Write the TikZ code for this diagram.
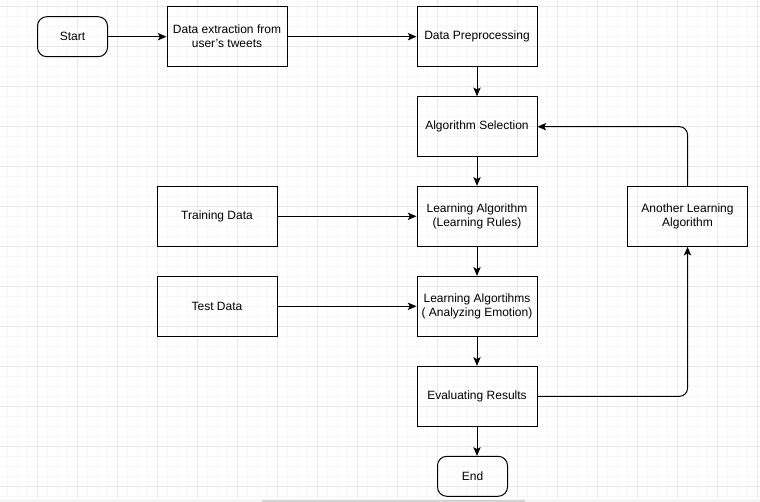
\documentclass[tikz,border=0pt]{standalone}
\usepackage{fontspec}
\setmainfont{Liberation Sans}
\usetikzlibrary{arrows.meta}
\definecolor{minorgrid}{HTML}{F6F6F6}
\definecolor{majorgrid}{HTML}{E8E8E8}
\begin{document}
\begin{tikzpicture}[x=0.75pt,y=-0.75pt,
  box/.style={draw, line width=0.75pt, minimum width=90pt, minimum height=45pt, align=center, font=\fontsize{9}{10.5}\selectfont, inner sep=0pt},
  term/.style={box, rounded corners=7pt, minimum width=52.5pt, minimum height=30pt},
  arr/.style={-{Stealth[length=6.5pt,width=5.5pt,inset=1.5pt]}, line width=0.75pt},
  minor/.style={draw=minorgrid, line width=0.6pt},
  major/.style={draw=majorgrid, line width=0.75pt}]
\useasboundingbox (0,0) rectangle (760,502);
\fill[white] (0,0) rectangle (760,502);
\foreach \x in {7.5,17.5,...,757.5} \draw[minor] (\x,0) -- (\x,498);
\foreach \y in {6.7,16.7,...,496.7} \draw[minor] (0,\y) -- (760,\y);
\foreach \x in {37.5,77.5,...,757.5} \draw[major] (\x,0) -- (\x,498);
\foreach \y in {6.7,46.7,...,496.7} \draw[major] (0,\y) -- (760,\y);
\fill[gray!8] (0,498.5) rectangle (760,502);
\fill[gray!35] (262,500) rectangle (525,502);

\node[term] (start) at (72.5,36.7) {Start};
\node[box] (extract) at (227,36.7) {Data extraction from\\user's tweets};
\node[box] (prep) at (477,36.7) {Data Preprocessing};
\node[box] (algsel) at (477,126.7) {Algorithm Selection};
\node[box] (learn) at (477,216.3) {Learning Algorithm\\(Learning Rules)};
\node[box] (learns) at (477,306.3) {Learning Algortihms\\( Analyzing Emotion)};
\node[box] (eval) at (477,396.3) {Evaluating Results};
\node[term] (end) at (472.5,476.3) {End};
\node[box] (train) at (217,216.3) {Training Data};
\node[box] (test) at (217,306.3) {Test Data};
\node[box] (another) at (687.5,216.3) {Another Learning\\Algorithm};

\draw[arr] (start) -- (extract);
\draw[arr] (extract) -- (prep);
\draw[arr] (prep) -- (algsel);
\draw[arr] (algsel) -- (learn);
\draw[arr] (learn) -- (learns);
\draw[arr] (learns) -- (eval);
\draw[arr] (eval.south) -- (eval.south |- end.north);
\draw[arr] (train) -- (learn);
\draw[arr] (test) -- (learns);
\draw[arr, rounded corners=6pt] (eval.east) -| (another.south);
\draw[arr, rounded corners=6pt] (another.north) |- (algsel.east);
\end{tikzpicture}
\end{document}
